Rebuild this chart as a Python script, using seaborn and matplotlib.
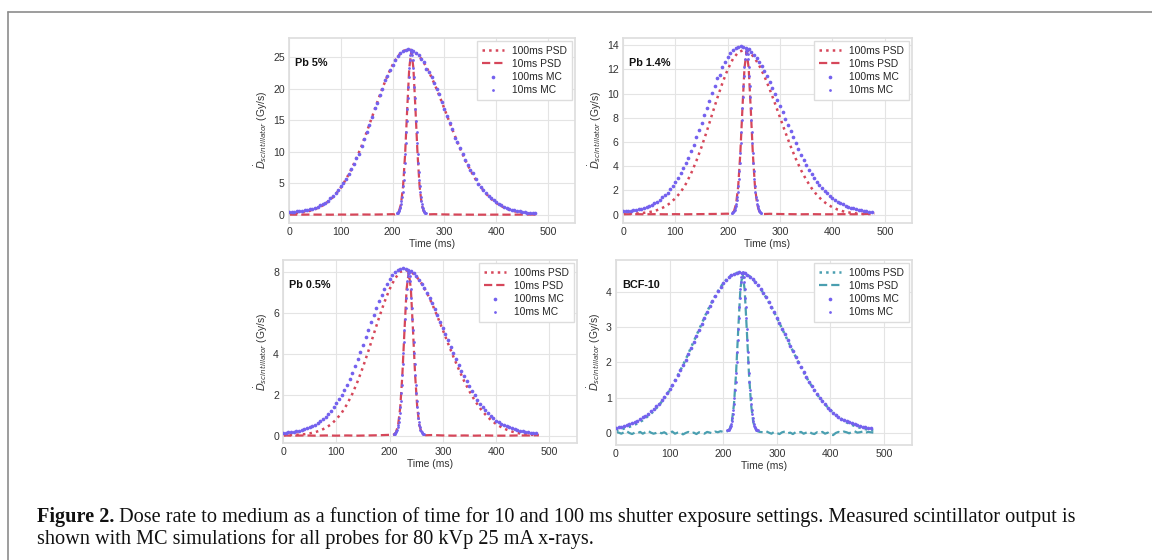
import numpy as np
import matplotlib
matplotlib.use("Agg")
import matplotlib.pyplot as plt
import seaborn as sns
from matplotlib.lines import Line2D

# time grids (ms)
t_mc = np.arange(0, 480, 5)          # 100 ms MC samples
t_psd = np.arange(0, 490, 10)        # 100 ms PSD samples
t_mc10 = np.arange(208, 265, 1)      # 10 ms MC samples around the peak
t_psd10 = np.concatenate([np.arange(0, 220, 20), np.arange(204, 272, 4), np.arange(280, 500, 20)])
t_psd10_bcf = np.concatenate([np.arange(0, 205, 5), np.arange(204, 272, 4), np.arange(275, 485, 5)])

# ---- Pb 5% ----
pb5_mc100 = [0.44, 0.46, 0.49, 0.53, 0.57, 0.63, 0.70, 0.78, 0.88, 1.0,
             1.14, 1.31, 1.5, 1.69, 1.95, 2.26, 2.61, 3.01, 3.46, 3.96,
             4.53, 5.07, 5.75, 6.49, 7.3, 8.1, 9.0, 9.7, 10.94, 12.05,
             13.18, 14.31, 15.49, 16.9, 17.83, 18.96, 20.07, 21.4, 22.12, 23.04,
             23.85, 24.59, 25.2, 25.67, 26.01, 26.22, 26.3, 26.25, 26.06, 25.77,
             25.35, 24.83, 24.22, 23.2, 22.72, 21.86, 20.93, 19.96, 19.2, 17.88,
             16.81, 15.73, 14.65, 13.6, 12.2, 11.55, 10.55, 9.6, 8.71, 7.86,
             7.07, 6.6, 5.63, 4.97, 4.39, 4.0, 3.47, 3.02, 2.64, 2.29,
             2.03, 1.75, 1.52, 1.3, 1.12, 0.97, 0.83, 0.72, 0.62, 0.54,
             0.47, 0.41, 0.36, 0.32, 0.29, 0.26]
pb5_psd100 = [0.19, 0.24, 0.32, 0.45, 0.63, 0.89, 1.25, 1.75, 2.41, 3.26, 4.33, 5.65,
              7.2, 8.97, 10.94, 13.18, 15.49, 17.83, 20.07, 22.12, 23.85, 25.2, 26.01, 26.3,
              26.06, 25.35, 24.22, 22.72, 20.93, 18.94, 16.81, 14.65, 12.55, 10.55, 8.71, 7.07,
              5.63, 4.39, 3.37, 2.54, 1.88, 1.37, 0.97, 0.68, 0.47, 0.32, 0.21, 0.14, 0.09]
pb5_mc10 = [0.21, 0.27, 0.34, 0.44, 0.59, 0.77, 1.01, 1.32, 1.73, 2.23, 2.86, 3.62, 4.52, 5.58,
            6.8, 8.17, 9.7, 11.36, 13.11, 14.95, 16.8, 18.63, 20.37, 21.97, 23.38, 24.53, 25.39, 25.92,
            26.1,
            25.92, 25.39, 24.53, 23.38, 21.97, 20.37, 18.63, 16.8, 14.95, 13.11, 11.36, 9.7, 8.17, 6.8,
            5.58, 4.52, 3.62, 2.86, 2.23, 1.73, 1.32, 1.01, 0.77, 0.59, 0.44, 0.34, 0.27, 0.21]
pb5_psd10 = ([0.03, 0.02, 0.04, 0.03, 0.02, 0.04, 0.03, 0.05, 0.04, 0.06, 0.1]
             + [0.07, 0.16, 0.54, 1.69, 4.47, 9.64, 16.74, 23.32, 26.05, 23.32, 16.74, 9.64, 4.47, 1.69, 0.54, 0.16, 0.07]
             + [0.1, 0.06, 0.04, 0.03, 0.02, 0.02, 0.03, 0.02, 0.03, 0.04, 0.05])

# ---- Pb 1.4% ----
pb14_mc100 = [0.26, 0.27, 0.29, 0.32, 0.35, 0.38, 0.43, 0.48, 0.54, 0.62,
              0.71, 0.81, 0.93, 1.07, 1.23, 1.42, 1.58, 1.82, 2.08, 2.39,
              2.67, 3.03, 3.42, 3.85, 4.28, 4.71, 5.24, 5.78, 6.37, 6.96,
              7.56, 8.19, 8.8, 9.42, 10.02, 10.61, 11.3, 11.5, 12.18, 12.61,
              13.0, 13.32, 13.57, 13.75, 13.86, 13.9, 13.87, 13.79, 13.66, 13.47,
              13.23, 12.95, 12.64, 12.26, 11.87, 11.44, 10.98, 10.49, 9.99, 9.48,
              8.97, 8.44, 7.91, 7.38, 6.87, 6.37, 5.88, 5.41, 4.95, 4.52,
              4.1, 3.71, 3.35, 3.0, 2.73, 2.44, 2.18, 1.98, 1.75, 1.56,
              1.37, 1.21, 1.06, 0.95, 0.83, 0.73, 0.64, 0.56, 0.5, 0.44,
              0.39, 0.34, 0.31, 0.27, 0.25, 0.22]
pb14_psd100 = [0.06, 0.07, 0.08, 0.10, 0.14, 0.2, 0.29, 0.44, 0.65, 0.94, 1.35, 1.84,
               2.53, 3.39, 4.42, 5.59, 6.88, 8.26, 9.62, 10.89, 12.0, 12.87, 13.41, 13.6,
               13.45, 13.03, 12.34, 11.44, 10.38, 9.22, 8.01, 6.81, 5.66, 4.61, 3.67, 2.87,
               2.19, 1.63, 1.19, 0.85, 0.6, 0.41, 0.27, 0.18, 0.12, 0.07, 0.05, 0.04, 0.05]
pb14_mc10 = [0.11, 0.14, 0.18, 0.23, 0.3, 0.4, 0.53, 0.69, 0.9, 1.17, 1.49, 1.89, 2.36, 2.92,
             3.56, 4.27, 5.07, 5.94, 6.86, 7.82, 8.79, 9.74, 10.65, 11.49, 12.23, 12.83, 13.28, 13.56,
             13.65,
             13.56, 13.28, 12.83, 12.23, 11.49, 10.65, 9.74, 8.79, 7.82, 6.86, 5.94, 5.07, 4.27, 3.56,
             2.92, 2.36, 1.89, 1.49, 1.17, 0.9, 0.69, 0.53, 0.4, 0.3, 0.23, 0.18, 0.14, 0.11]
pb14_psd10 = ([0.02, 0.03, 0.02, 0.03, 0.02, 0.03, 0.02, 0.03, 0.04, 0.05, 0.07]
              + [0.04, 0.09, 0.28, 0.88, 2.33, 5.01, 8.7, 12.11, 13.53, 12.11, 8.7, 5.01, 2.33, 0.88, 0.28, 0.09, 0.04]
              + [0.06, 0.04, 0.03, 0.02, 0.03, 0.02, 0.02, 0.03, 0.02, 0.04, 0.08])

# ---- Pb 0.5% ----
pb05_mc100 = [0.15, 0.16, 0.17, 0.19, 0.21, 0.23, 0.25, 0.29, 0.32, 0.37,
              0.42, 0.48, 0.55, 0.63, 0.73, 0.82, 0.94, 1.08, 1.24, 1.40,
              1.6, 1.78, 2.01, 2.26, 2.49, 2.78, 3.09, 3.41, 3.76, 4.11,
              4.46, 4.83, 5.19, 5.56, 5.91, 6.26, 6.58, 6.9, 7.18, 7.44,
              7.67, 7.86, 8.0, 8.11, 8.18, 8.2, 8.18, 8.13, 8.06, 7.95,
              7.81, 7.64, 7.45, 7.23, 7.0, 6.75, 6.48, 6.19, 5.9, 5.59,
              5.29, 4.98, 4.67, 4.35, 4.05, 3.76, 3.47, 3.19, 2.92, 2.67,
              2.42, 2.19, 1.98, 1.77, 1.58, 1.41, 1.25, 1.11, 0.98, 0.86,
              0.75, 0.67, 0.6, 0.52, 0.46, 0.41, 0.36, 0.32, 0.28, 0.25,
              0.22, 0.19, 0.17, 0.15, 0.14, 0.12]
pb05_psd100 = [0.03, 0.04, 0.05, 0.06, 0.08, 0.12, 0.18, 0.26, 0.39, 0.56, 0.81, 1.12,
               1.54, 2.05, 2.66, 3.36, 4.13, 4.95, 5.76, 6.52, 7.17, 7.69, 8.02, 8.1,
               8.03, 7.81, 7.46, 7.0, 6.45, 5.83, 5.18, 4.51, 3.86, 3.25, 2.68, 2.18,
               1.73, 1.35, 1.04, 0.78, 0.58, 0.42, 0.3, 0.21, 0.14, 0.1, 0.06, 0.05, 0.04]
pb05_mc10 = [0.07, 0.08, 0.1, 0.14, 0.18, 0.24, 0.31, 0.41, 0.53, 0.69, 0.88, 1.11, 1.39, 1.72,
             2.09, 2.51, 2.98, 3.49, 4.03, 4.6, 5.17, 5.73, 6.27, 6.76, 7.19, 7.55, 7.81, 7.97,
             8.03,
             7.97, 7.81, 7.55, 7.19, 6.76, 6.27, 5.73, 5.17, 4.6, 4.03, 3.49, 2.98, 2.51, 2.09,
             1.72, 1.39, 1.11, 0.88, 0.69, 0.53, 0.41, 0.31, 0.24, 0.18, 0.14, 0.1, 0.08, 0.07]
pb05_psd10 = ([0.02, 0.01, 0.02, 0.01, 0.02, 0.01, 0.02, 0.01, 0.02, 0.03, 0.05]
              + [0.03, 0.06, 0.17, 0.52, 1.38, 2.97, 5.16, 7.18, 8.02, 7.18, 5.16, 2.97, 1.38, 0.52, 0.17, 0.06, 0.03]
              + [0.04, 0.02, 0.01, 0.02, 0.01, 0.02, 0.01, 0.01, 0.02, 0.02, 0.03])

# ---- BCF-10 ----
bcf_mc100 = [0.15, 0.17, 0.18, 0.2, 0.23, 0.25, 0.28, 0.31, 0.35, 0.39,
             0.44, 0.49, 0.55, 0.61, 0.67, 0.76, 0.83, 0.93, 1.03, 1.14,
             1.25, 1.37, 1.51, 1.64, 1.77, 1.92, 2.08, 2.25, 2.42, 2.59,
             2.76, 2.93, 3.1, 3.27, 3.44, 3.59, 3.74, 3.89, 4.01, 4.14,
             4.24, 4.33, 4.41, 4.47, 4.51, 4.54, 4.55, 4.54, 4.52, 4.48,
             4.43, 4.36, 4.28, 4.19, 4.08, 3.97, 3.84, 3.71, 3.57, 3.42,
             3.27, 3.11, 2.95, 2.79, 2.63, 2.47, 2.32, 2.16, 2.01, 1.86,
             1.72, 1.58, 1.45, 1.33, 1.21, 1.1, 0.99, 0.9, 0.81, 0.72,
             0.65, 0.57, 0.51, 0.45, 0.4, 0.37, 0.33, 0.3, 0.27, 0.24,
             0.22, 0.2, 0.18, 0.16, 0.14, 0.13]
bcf_psd100 = [0.07, 0.1, 0.15, 0.2, 0.27, 0.36, 0.48, 0.61, 0.78, 0.98, 1.21, 1.48,
              1.77, 2.08, 2.42, 2.76, 3.1, 3.44, 3.74, 4.01, 4.24, 4.41, 4.51, 4.55,
              4.52, 4.43, 4.28, 4.08, 3.84, 3.57, 3.27, 2.95, 2.63, 2.32, 2.01, 1.72,
              1.45, 1.21, 0.99, 0.81, 0.65, 0.51, 0.4, 0.3, 0.23, 0.17, 0.13, 0.09, 0.07]
bcf_mc10 = [0.07, 0.08, 0.09, 0.11, 0.13, 0.17, 0.21, 0.26, 0.33, 0.42, 0.53, 0.66, 0.82, 1.0,
            1.21, 1.45, 1.71, 2.0, 2.3, 2.62, 2.94, 3.26, 3.56, 3.83, 4.08, 4.28, 4.43, 4.52,
            4.55,
            4.52, 4.43, 4.28, 4.08, 3.83, 3.56, 3.26, 2.94, 2.62, 2.3, 2.0, 1.71, 1.45, 1.21,
            1.0, 0.82, 0.66, 0.53, 0.42, 0.33, 0.26, 0.21, 0.17, 0.13, 0.11, 0.09, 0.08, 0.07]
bcf_psd10 = ([0.03, 0.01, -0.02, 0.02, 0.05, 0.0, -0.03, 0.01, -0.01, 0.03, -0.02, 0.02, 0.06, 0.01,
              -0.02, 0.0, 0.03, -0.01, 0.02, -0.03, 0.0, 0.04, -0.02, 0.01, 0.02, -0.04, 0.0, 0.03,
              -0.01, 0.01, -0.03, 0.02, 0.0, -0.02, 0.03, 0.01, -0.01, 0.04, 0.02, 0.05, 0.03]
             + [0.03, 0.05, 0.11, 0.31, 0.8, 1.69, 2.92, 4.06, 4.53, 4.06, 2.92, 1.69, 0.8, 0.31, 0.11, 0.05, 0.03]
             + [0.02, 0.05, 0.01, -0.02, 0.03, 0.0, -0.03, 0.02, 0.04, -0.01, 0.01, -0.03, 0.02, 0.0,
                0.03, -0.02, 0.01, 0.04, -0.01, -0.03, 0.02, 0.0, 0.03, -0.02, 0.01, -0.04, -0.06, 0.0,
                0.03, 0.01, 0.04, 0.02, -0.01, 0.03, 0.05, 0.01, 0.02, 0.04, 0.0, 0.03, 0.02, 0.01])

RED = "#d6475a"
TEAL = "#4a9fb0"
PURPLE = "#7461ee"

panels = [
    ("Pb 5%", pb5_psd100, pb5_psd10, t_psd10, pb5_mc100, pb5_mc10, RED,
     [0.2509, 0.6018, 0.2483, 0.3304], (-1.3, 28.1), [0, 5, 10, 15, 20, 25]),
    ("Pb 1.4%", pb14_psd100, pb14_psd10, t_psd10, pb14_mc100, pb14_mc10, RED,
     [0.5408, 0.6018, 0.2509, 0.3304], (-0.7, 14.6), [0, 2, 4, 6, 8, 10, 12, 14]),
    ("Pb 0.5%", pb05_psd100, pb05_psd10, t_psd10, pb05_mc100, pb05_mc10, RED,
     [0.2457, 0.2089, 0.2552, 0.3268], (-0.35, 8.6), [0, 2, 4, 6, 8]),
    ("BCF-10", bcf_psd100, bcf_psd10, t_psd10_bcf, bcf_mc100, bcf_mc10, TEAL,
     [0.5347, 0.2054, 0.2569, 0.3304], (-0.34, 4.9), [0, 1, 2, 3, 4]),
]

sns.set_theme(style="whitegrid", rc={
    "grid.color": "#e4e4e4", "axes.edgecolor": "#dedede", "grid.linewidth": 0.8,
    "xtick.major.size": 0, "ytick.major.size": 0,
    "xtick.major.pad": 3, "ytick.major.pad": 3,
    "xtick.color": "#333333", "ytick.color": "#333333", "axes.labelcolor": "#333333",
})
plt.rcParams['font.family'] = ['Liberation Sans', 'DejaVu Sans']

fig = plt.figure(figsize=(11.52, 5.6), dpi=100)

for name, psd100, psd10, tp10, mc100, mc10, col, pos, ylim, yt in panels:
    ax = fig.add_axes(pos)
    sns.lineplot(x=t_psd, y=psd100, ax=ax, color=col, linestyle=":", linewidth=1.8, label="100ms PSD")
    sns.lineplot(x=tp10, y=psd10, ax=ax, color=col, linestyle=(0, (3.7, 1.8)), linewidth=1.6, label="10ms PSD")
    sns.scatterplot(x=t_mc, y=mc100, ax=ax, color=PURPLE, s=7, linewidth=0, label="100ms MC", zorder=3)
    sns.scatterplot(x=t_mc10, y=mc10, ax=ax, color=PURPLE, s=4, linewidth=0, label="10ms MC", zorder=3)
    ax.set_xlim(0, 552)
    ax.set_ylim(*ylim)
    ax.set_xticks([0, 100, 200, 300, 400, 500])
    ax.set_yticks(yt)
    ax.tick_params(labelsize=7.6)
    ax.set_xlabel("Time (ms)", fontsize=7.4, labelpad=1)
    ax.set_ylabel(r"$\dot{D}_{scintillator}$ (Gy/s)", fontsize=7.4, labelpad=2)
    ax.text(0.02, 0.865, name, transform=ax.transAxes, fontsize=7.8, fontweight="bold",
            ha="left", va="center", color="#111111")
    ax.legend(loc="upper right", fontsize=7.4, frameon=True, handlelength=2.2, labelspacing=0.3,
              borderpad=0.45, handletextpad=0.8, borderaxespad=0.3, fancybox=False,
              edgecolor="#dddddd", framealpha=1)

# page frame
fig.add_artist(Line2D([8 / 1152, 8 / 1152], [0, 1 - 12 / 560], transform=fig.transFigure,
                      color="#8c8c8c", linewidth=1.2))
fig.add_artist(Line2D([8 / 1152, 1], [1 - 12 / 560, 1 - 12 / 560], transform=fig.transFigure,
                      color="#8c8c8c", linewidth=1.2))

# caption
cap_fs = 14.6
fig.canvas.draw()
r = fig.canvas.get_renderer()
t1 = fig.text(37 / 1152, 1 - 517 / 560, "Figure 2.", fontfamily="Liberation Serif",
              fontweight="bold", fontsize=cap_fs, va="center", color="#111111")
bb = t1.get_window_extent(renderer=r)
fig.text(bb.x1 / 1152, 1 - 517 / 560,
         " Dose rate to medium as a function of time for 10 and 100 ms shutter exposure settings. "
         "Measured scintillator output is",
         fontfamily="Liberation Serif", fontsize=cap_fs, va="center", color="#111111")
fig.text(37 / 1152, 1 - 539 / 560,
         "shown with MC simulations for all probes for 80 kVp 25 mA x-rays.",
         fontfamily="Liberation Serif", fontsize=cap_fs, va="center", color="#111111")

fig.savefig("out.png", dpi=100)
